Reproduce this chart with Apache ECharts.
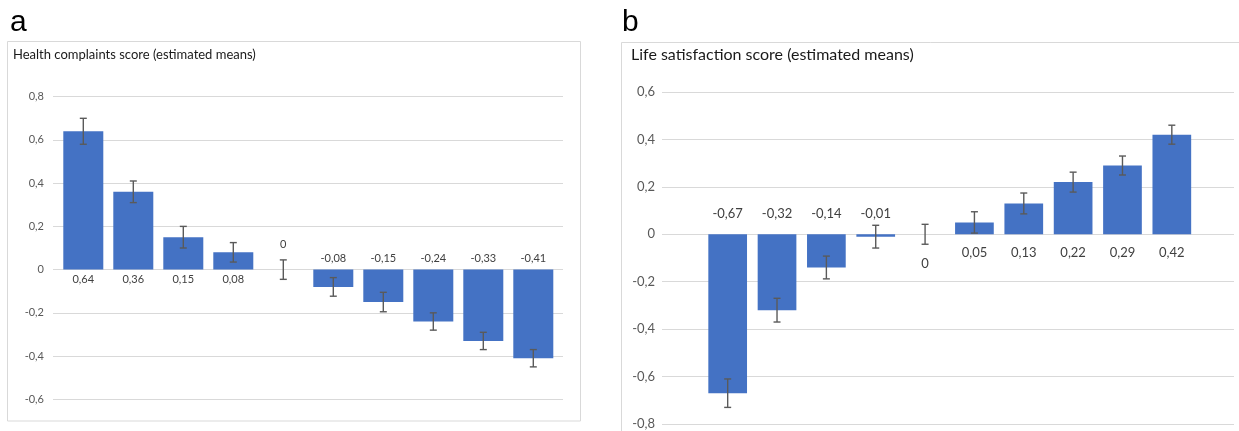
<!DOCTYPE html>
<html><head><meta charset="utf-8">
<script src="https://cdn.jsdelivr.net/npm/echarts@6/dist/echarts.min.js"></script>
<style>html,body{margin:0;padding:0;background:#fff}#c{width:1239px;height:431px}</style>
</head><body><div id="c"></div>
<script>
// ---- data ----
const categories = ['G1','G2','G3','G4','G5','G6','G7','G8','G9','G10'];
const healthMeans = [0.64, 0.36, 0.15, 0.08, 0, -0.08, -0.15, -0.24, -0.33, -0.41];
const healthErr   = [0.06, 0.05, 0.05, 0.045, 0.045, 0.043, 0.045, 0.04, 0.04, 0.04];
const lifeMeans   = [-0.67, -0.32, -0.14, -0.01, 0, 0.05, 0.13, 0.22, 0.29, 0.42];
const lifeErr     = [0.06, 0.05, 0.048, 0.048, 0.042, 0.045, 0.044, 0.042, 0.04, 0.04];
const healthAxis = {min: -0.6, max: 0.8, interval: 0.2};
const lifeAxis   = {min: -0.8, max: 0.6, interval: 0.2};
const titleA = 'Health complaints score (estimated means)';
const titleB = 'Life satisfaction score (estimated means)';

const FONT = 'Lato, "Open Sans", sans-serif';
const fmt = v => {
  const r = Math.round(v * 100) / 100;
  return String(r).replace('.', ',');
};
const tickFmt = v => String(Math.round(v * 10) / 10).replace('.', ',');

const chart = echarts.init(document.getElementById('c'));

function errData(means, errs) {
  return means.map((m, i) => [i, m, m - errs[i], m + errs[i]]);
}
function errSeries(axisIdx, means, errs) {
  return {
    type: 'custom', xAxisIndex: axisIdx, yAxisIndex: axisIdx, z: 5,
    data: errData(means, errs),
    renderItem: (params, api) => {
      const i = api.value(0);
      const lo = api.coord([i, api.value(2)]);
      const hi = api.coord([i, api.value(3)]);
      const cw = 3.5;
      const st = {stroke: '#5a5a5a', lineWidth: 1.4};
      return {type: 'group', children: [
        {type: 'line', shape: {x1: lo[0], y1: lo[1], x2: hi[0], y2: hi[1]}, style: st},
        {type: 'line', shape: {x1: lo[0]-cw, y1: lo[1], x2: lo[0]+cw, y2: lo[1]}, style: st},
        {type: 'line', shape: {x1: hi[0]-cw, y1: hi[1], x2: hi[0]+cw, y2: hi[1]}, style: st}
      ]};
    }
  };
}
function labelSeries(axisIdx, means, errs, cfg) {
  return {
    type: 'custom', xAxisIndex: axisIdx, yAxisIndex: axisIdx, z: 6,
    data: errData(means, errs),
    renderItem: (params, api) => {
      const i = api.value(0), m = api.value(1);
      let p, dy;
      if (m > 0) { p = api.coord([i, 0]); dy = cfg.posOff; }
      else if (m < 0) { p = api.coord([i, 0]); dy = -cfg.negOff; }
      else if (cfg.zeroUp) { p = api.coord([i, api.value(3)]); dy = -cfg.zeroOff; }
      else { p = api.coord([i, api.value(2)]); dy = cfg.zeroOff; }
      return {type: 'text', style: {
        text: fmt(m), x: p[0], y: p[1] + dy, align: 'center', verticalAlign: 'middle',
        fill: '#404040', font: cfg.size + 'px ' + FONT
      }};
    }
  };
}

const gridLine = '#d9d9d9';
function lineYAxis(gi, ax, size, margin) {
  return {type: 'value', gridIndex: gi, min: ax.min, max: ax.max, interval: ax.interval,
    axisLine: {show: false}, axisTick: {show: false},
    axisLabel: {formatter: tickFmt, color: '#595959', fontSize: size, fontFamily: FONT, margin: margin},
    splitLine: {lineStyle: {color: gridLine, width: 1}}};
}
function hiddenYAxis(gi, ax) {
  return {type: 'value', gridIndex: gi, min: ax.min, max: ax.max, interval: ax.interval,
    show: false, splitLine: {show: false}};
}

const option = {
  animation: false,
  backgroundColor: '#fff',
  grid: [
    {left: 53, top: 96.7, width: 510, height: 302.6},
    {left: 58.3, top: 96.7, width: 500, height: 302.6},
    {left: 662, top: 92, width: 572, height: 332},
    {left: 703, top: 92, width: 493.5, height: 332}
  ],
  xAxis: [
    {type: 'value', gridIndex: 0, show: false, min: 0, max: 1, splitLine: {show: false}},
    {type: 'category', gridIndex: 1, data: categories, show: false},
    {type: 'value', gridIndex: 2, show: false, min: 0, max: 1, splitLine: {show: false}},
    {type: 'category', gridIndex: 3, data: categories, show: false}
  ],
  yAxis: [
    lineYAxis(0, healthAxis, 11, 9),
    hiddenYAxis(1, healthAxis),
    lineYAxis(2, lifeAxis, 13, 7),
    hiddenYAxis(3, lifeAxis)
  ],
  series: [
    {type: 'bar', xAxisIndex: 1, yAxisIndex: 1, data: healthMeans, barWidth: 40,
      itemStyle: {color: '#4472C4'}, z: 3},
    errSeries(1, healthMeans, healthErr),
    labelSeries(1, healthMeans, healthErr, {posOff: 10, negOff: 11, zeroUp: true, zeroOff: 15, size: 11}),
    {type: 'bar', xAxisIndex: 3, yAxisIndex: 3, data: lifeMeans, barWidth: 38.7,
      itemStyle: {color: '#4472C4'}, z: 3},
    errSeries(3, lifeMeans, lifeErr),
    labelSeries(3, lifeMeans, lifeErr, {posOff: 19, negOff: 20, zeroUp: false, zeroOff: 20, size: 13})
  ],
  graphic: [
    {type: 'rect', shape: {x: 7.5, y: 41.5, width: 573, height: 379.5},
      style: {fill: 'none', stroke: '#d9d9d9', lineWidth: 1}, z: -1},
    {type: 'rect', shape: {x: 621.5, y: 42.5, width: 640, height: 420},
      style: {fill: 'none', stroke: '#d9d9d9', lineWidth: 1}, z: -1},
    {type: 'text', left: 10, top: 8, style: {text: 'a', font: '30px "Liberation Sans", Arial, sans-serif', fill: '#000'}},
    {type: 'text', left: 622, top: 8, style: {text: 'b', font: '30px "Liberation Sans", Arial, sans-serif', fill: '#000'}},
    {type: 'text', left: 13, top: 48, style: {text: titleA, font: '13px ' + FONT, fill: '#1a1a1a'}},
    {type: 'text', left: 631, top: 47, style: {text: titleB, font: '16px ' + FONT, fill: '#1a1a1a'}}
  ]
};
chart.setOption(option);
</script>
</body></html>
